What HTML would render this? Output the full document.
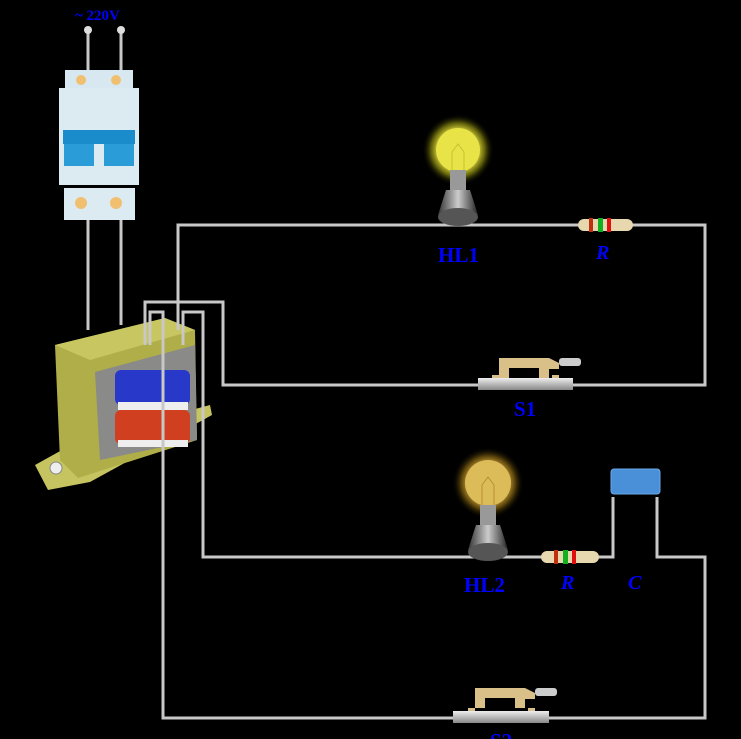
<!DOCTYPE html>
<html><head><meta charset="utf-8"><style>
html,body{margin:0;padding:0;background:#000;}
svg{display:block}
text{font-family:"Liberation Serif",serif;font-weight:bold;fill:#0000ff}
</style></head><body>
<svg width="741" height="739" viewBox="0 0 741 739" xmlns="http://www.w3.org/2000/svg">
<defs>
<radialGradient id="glow1" cx="0.5" cy="0.5" r="0.5">
<stop offset="0" stop-color="#ffff90"/><stop offset="0.55" stop-color="#e0dc40"/><stop offset="0.75" stop-color="#8a8a10" stop-opacity="0.7"/><stop offset="1" stop-color="#000" stop-opacity="0"/></radialGradient>
<radialGradient id="glow2" cx="0.5" cy="0.5" r="0.5">
<stop offset="0" stop-color="#f8e090"/><stop offset="0.55" stop-color="#d0a840"/><stop offset="0.75" stop-color="#806010" stop-opacity="0.7"/><stop offset="1" stop-color="#000" stop-opacity="0"/></radialGradient>
<linearGradient id="base" x1="0" x2="1"><stop offset="0" stop-color="#333"/><stop offset="0.5" stop-color="#ccc"/><stop offset="1" stop-color="#222"/></linearGradient>
<linearGradient id="sw" x1="0" y1="0" x2="0" y2="1"><stop offset="0" stop-color="#eee"/><stop offset="1" stop-color="#888"/></linearGradient>
</defs>
<!-- mains (behind) -->
<g fill="none" stroke="#c8c8c8" stroke-width="3">
<line x1="88" y1="30" x2="88" y2="72"/><line x1="121" y1="30" x2="121" y2="72"/>
<line x1="88" y1="220" x2="88" y2="330"/><line x1="121" y1="220" x2="121" y2="325"/>
</g>
<circle cx="88" cy="30" r="4" fill="#ddd"/><circle cx="121" cy="30" r="4" fill="#ddd"/>
<text x="75" y="20" font-size="15">~ 220V</text>
<!-- breaker -->
<rect x="65" y="70" width="68" height="20" fill="#d8e8f0"/>
<rect x="59" y="88" width="80" height="97" fill="#dceaf2"/>
<rect x="63" y="130" width="72" height="14" fill="#1a8ccc"/>
<rect x="64" y="144" width="30" height="22" fill="#2a9cd8"/><rect x="104" y="144" width="30" height="22" fill="#2a9cd8"/>
<rect x="64" y="188" width="71" height="32" fill="#dceaf2"/>
<circle cx="81" cy="80" r="5" fill="#f0c070"/><circle cx="116" cy="80" r="5" fill="#f0c070"/>
<circle cx="81" cy="203" r="6" fill="#f0c070"/><circle cx="116" cy="203" r="6" fill="#f0c070"/>
<!-- transformer -->
<polygon points="35,465 80,440 210,405 212,415 90,482 48,490" fill="#c6c460"/>
<polygon points="55,345 165,318 195,330 197,440 78,478 60,460" fill="#b0ae48"/>
<polygon points="55,345 165,318 195,330 90,360" fill="#c8c660"/>
<polygon points="95,372 195,345 197,440 100,460" fill="#8a8a88"/>
<rect x="115" y="370" width="75" height="35" rx="6" fill="#2838c8"/>
<rect x="115" y="410" width="75" height="34" rx="6" fill="#d04020"/>
<rect x="118" y="402" width="70" height="8" fill="#eee"/><rect x="118" y="440" width="70" height="7" fill="#eee"/>
<circle cx="56" cy="468" r="6" fill="#eee" stroke="#888"/>
<!-- wires -->
<g fill="none" stroke="#c8c8c8" stroke-width="3">
<polyline points="178,330 178,225 705,225 705,385 223,385 223,302 145,302 145,345"/>
<polyline points="183,345 183,312 203,312 203,557 613,557 613,497"/>
<polyline points="657,497 657,557 705,557 705,718 163,718 163,312 150,312 150,345"/>
</g>
<!-- HL1 -->
<circle cx="458" cy="150" r="36" fill="url(#glow1)"/>
<circle cx="458" cy="150" r="22" fill="#e8e448"/>
<path d="M452,172 v-20 l6,-8 l6,8 v20" stroke="#c8c030" fill="none"/>
<rect x="450" y="170" width="16" height="20" fill="#999"/>
<path d="M446,190 h24 l8,25 h-40z" fill="url(#base)"/>
<ellipse cx="458" cy="217" rx="20" ry="9" fill="#555"/>
<text x="438" y="262" font-size="21">HL1</text>
<!-- R1 -->
<rect x="578" y="219" width="55" height="12" rx="6" fill="#e8d8b0"/>
<rect x="589" y="218" width="4" height="14" fill="#c03010"/><rect x="598" y="218" width="5" height="14" fill="#10b020"/><rect x="607" y="218" width="4" height="14" fill="#e01010"/>
<text x="596" y="259" font-size="20" font-style="italic">R</text>
<!-- S1 -->
<rect x="478" y="378" width="95" height="12" fill="url(#sw)"/>
<path d="M499,358 h50 l10,5 v6 h-10 v9 h-10 v-10 h-30 v10 h-10z" fill="#d8c088"/>
<rect x="559" y="358" width="22" height="8" rx="3" fill="#ccc"/>
<rect x="492" y="375" width="7" height="3" fill="#d8c088"/><rect x="552" y="375" width="7" height="3" fill="#d8c088"/>
<text x="514" y="416" font-size="21">S1</text>
<!-- HL2 -->
<circle cx="488" cy="483" r="36" fill="url(#glow2)"/>
<circle cx="488" cy="483" r="23" fill="#dcbc58"/>
<path d="M482,505 v-20 l6,-8 l6,8 v20" stroke="#b89030" fill="none"/>
<rect x="480" y="505" width="16" height="20" fill="#999"/>
<path d="M476,525 h24 l8,25 h-40z" fill="url(#base)"/>
<ellipse cx="488" cy="552" rx="20" ry="9" fill="#555"/>
<text x="464" y="592" font-size="21">HL2</text>
<!-- R2 -->
<rect x="541" y="551" width="58" height="12" rx="6" fill="#e8d8b0"/>
<rect x="554" y="550" width="4" height="14" fill="#c03010"/><rect x="563" y="550" width="5" height="14" fill="#10b020"/><rect x="572" y="550" width="4" height="14" fill="#e01010"/>
<text x="561" y="589" font-size="20" font-style="italic">R</text>
<!-- C -->
<rect x="611" y="469" width="49" height="25" rx="3" fill="#4a90d8" stroke="#6aa8e8"/>
<text x="628" y="589" font-size="20" font-style="italic">C</text>
<!-- S2 -->
<rect x="453" y="711" width="96" height="12" fill="url(#sw)"/>
<path d="M475,688 h50 l10,5 v6 h-10 v9 h-10 v-10 h-30 v10 h-10z" fill="#d8c088"/>
<rect x="535" y="688" width="22" height="8" rx="3" fill="#ccc"/>
<rect x="468" y="708" width="7" height="3" fill="#d8c088"/><rect x="528" y="708" width="7" height="3" fill="#d8c088"/>
<text x="490" y="748" font-size="21">S2</text>
</svg>
</body></html>
